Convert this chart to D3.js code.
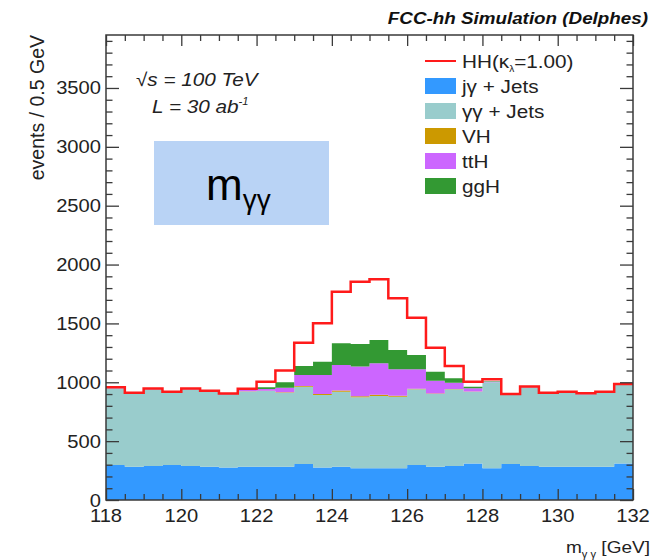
<!DOCTYPE html>
<html>
<head>
<meta charset="utf-8">
<script src="https://cdn.jsdelivr.net/npm/d3@7"></script>
<style>
  html, body { margin: 0; padding: 0; background: #ffffff; }
  svg { display: block; }
  text { font-family: "Liberation Sans", Arial, Helvetica, sans-serif; }
</style>
</head>
<body>
<svg id="chart" width="665" height="560"></svg>
<script>
// Bin lower edges of the diphoton invariant mass (GeV), 0.5 GeV wide
const binLow = [118, 118.5, 119, 119.5, 120, 120.5, 121, 121.5, 122, 122.5,
                123, 123.5, 124, 124.5, 125, 125.5, 126, 126.5, 127, 127.5,
                128, 128.5, 129, 129.5, 130, 130.5, 131, 131.5];
const binWidth = 0.5;

// Stacked backgrounds (events per bin), bottom to top
const jGammaJets = [297, 283, 289, 297, 289, 283, 277, 283, 283, 283, 306, 277, 283, 269,
                    269, 269, 297, 283, 289, 311, 269, 306, 289, 283, 283, 283, 283, 311];
const gammaGammaJets = [653, 622, 652, 616, 652, 638, 615, 639, 643, 629, 657, 615, 637, 603,
                        615, 609, 643, 617, 651, 609, 731, 587, 669, 622, 630, 616, 630, 667];
const vh  = [0, 0, 0, 0, 0, 1, 1, 2, 2, 3, 5, 8, 10, 10, 10, 8, 6, 4, 3, 2, 1, 0, 0, 0, 0, 0, 0, 0];
const ttH = [1, 1, 1, 1, 2, 2, 3, 10, 15, 39, 94, 162, 217, 251, 267, 224, 164, 110, 54, 27, 4,
             2, 1, 1, 1, 1, 1, 1];
const ggH = [1, 1, 1, 1, 1, 2, 2, 5, 14, 46, 76, 113, 184, 192, 198, 164, 122, 76, 37, 14, 3,
             1, 1, 1, 1, 1, 1, 1];
// HH signal, drawn as an outline on top of the stack
const hh  = [5, 5, 5, 5, 4, 3, 6, 6, 48, 99, 198, 326, 439, 530, 516, 439, 317, 204, 104, 42, 17,
             5, 5, 5, 5, 5, 5, 5];

const seriesKeys   = ["jg", "gg", "vh", "tth", "ggh"];
const seriesLabels = ["jγ + Jets", "γγ + Jets", "VH", "ttH", "ggH"];
const seriesColors = ["#3399ff", "#99cccc", "#cc9900", "#cc66ff", "#339933"];
const hhColor = "#ff1a1a";

const xMajorTicks = [118, 120, 122, 124, 126, 128, 130, 132];
const yMajorTicks = [0, 500, 1000, 1500, 2000, 2500, 3000, 3500];
const yMax = 3950;

// ---------------------------------------------------------------
const svg = d3.select("#chart");
const plot = { left: 106, right: 633, top: 35, bottom: 500 };
const textStretch = 1.12;   // glyphs are drawn slightly wide

const x = d3.scaleLinear().domain([118, 132]).range([plot.left, plot.right]);
const y = d3.scaleLinear().domain([0, yMax]).range([plot.bottom, plot.top]);

const rows = binLow.map((lo, i) => ({
  lo, hi: lo + binWidth,
  jg: jGammaJets[i], gg: gammaGammaJets[i], vh: vh[i], tth: ttH[i], ggh: ggH[i], hh: hh[i]
}));

const stacked = d3.stack().keys(seriesKeys)(rows);

// filled step areas for each stacked component
const stepPoints = layer => layer.flatMap(d => [
  { x: d.data.lo, y0: d[0], y1: d[1] },
  { x: d.data.hi, y0: d[0], y1: d[1] }
]);
const area = d3.area()
  .x(p => x(p.x))
  .y0(p => y(p.y0))
  .y1(p => y(p.y1));

svg.append("g").selectAll("path")
  .data(stacked)
  .join("path")
  .attr("d", layer => area(stepPoints(layer)))
  .attr("fill", (layer, i) => seriesColors[i])
  .attr("stroke", "none");

// HH outline on top of the full stack
const totals = rows.map(r => r.jg + r.gg + r.vh + r.tth + r.ggh + r.hh);
const hhPoints = rows.flatMap((r, i) => [[r.lo, totals[i]], [r.hi, totals[i]]]);
svg.append("path")
  .attr("d", d3.line().x(p => x(p[0])).y(p => y(p[1]))(hhPoints))
  .attr("fill", "none")
  .attr("stroke", hhColor)
  .attr("stroke-width", 2.5);

// ---------------------------------------------------------------
// frame and ticks (ticks point inwards on all four sides)
const axisColor = "#3a3a3a";
const xMinor = d3.range(118, 132.001, 0.5).filter(v => !xMajorTicks.includes(v));
const yMinor = d3.range(0, yMax, 100).filter(v => !yMajorTicks.includes(v));

function styleAxis(g) {
  g.select(".domain").remove();
  g.selectAll("line").attr("stroke", axisColor).attr("stroke-width", 1.3);
}

svg.append("g").attr("transform", `translate(0,${plot.bottom})`)
  .call(d3.axisBottom(x).tickValues(xMajorTicks).tickSize(-11).tickFormat(""))
  .call(styleAxis);
svg.append("g").attr("transform", `translate(0,${plot.bottom})`)
  .call(d3.axisBottom(x).tickValues(xMinor).tickSize(-6).tickFormat(""))
  .call(styleAxis);
svg.append("g").attr("transform", `translate(0,${plot.top})`)
  .call(d3.axisTop(x).tickValues(xMajorTicks).tickSize(-11).tickFormat(""))
  .call(styleAxis);
svg.append("g").attr("transform", `translate(0,${plot.top})`)
  .call(d3.axisTop(x).tickValues(xMinor).tickSize(-6).tickFormat(""))
  .call(styleAxis);
svg.append("g").attr("transform", `translate(${plot.left},0)`)
  .call(d3.axisLeft(y).tickValues(yMajorTicks).tickSize(-13).tickFormat(""))
  .call(styleAxis);
svg.append("g").attr("transform", `translate(${plot.left},0)`)
  .call(d3.axisLeft(y).tickValues(yMinor).tickSize(-6.5).tickFormat(""))
  .call(styleAxis);
svg.append("g").attr("transform", `translate(${plot.right},0)`)
  .call(d3.axisRight(y).tickValues(yMajorTicks).tickSize(-13).tickFormat(""))
  .call(styleAxis);
svg.append("g").attr("transform", `translate(${plot.right},0)`)
  .call(d3.axisRight(y).tickValues(yMinor).tickSize(-6.5).tickFormat(""))
  .call(styleAxis);

svg.append("rect")
  .attr("x", plot.left).attr("y", plot.top)
  .attr("width", plot.right - plot.left).attr("height", plot.bottom - plot.top)
  .attr("fill", "none").attr("stroke", axisColor).attr("stroke-width", 1.5);

// ---------------------------------------------------------------
// text helper: places a horizontally widened label at (px, py)
function label(px, py, opts = {}) {
  const rot = opts.rotate ? ` rotate(${opts.rotate})` : "";
  return svg.append("text")
    .attr("transform", `translate(${px},${py}) scale(${opts.stretch ?? textStretch},1)${rot}`)
    .attr("text-anchor", opts.anchor || "start")
    .attr("font-size", opts.size || 18)
    .attr("font-style", opts.italic ? "italic" : "normal")
    .attr("font-weight", opts.bold ? "bold" : "normal")
    .attr("fill", opts.color || "#222");
}

const tickFont = 18;
xMajorTicks.forEach(v => {
  label(x(v), 522, { anchor: "middle", size: tickFont }).text(v);
});
yMajorTicks.forEach(v => {
  label(plot.left - 5, y(v) + (v === 0 ? 7 : 6.5), { anchor: "end", size: tickFont }).text(v);
});

// axis titles
const yTitle = label(44, plot.top, { anchor: "end", size: 19.5, rotate: -90, stretch: 1 });
yTitle.text("events / 0.5 GeV");

const xTitle = label(650, 553, { anchor: "end", size: 17 });
xTitle.append("tspan").text("m");
xTitle.append("tspan").attr("font-size", 10).attr("dy", 5).text("γ γ");
xTitle.append("tspan").attr("dy", -5).text(" [GeV]");

// header
label(648, 24, { anchor: "end", size: 16.8, bold: true, italic: true, color: "#111" })
  .text("FCC-hh Simulation (Delphes)");

// collision energy and luminosity
label(136, 86, { size: 18.5, italic: true }).text("√s = 100 TeV");
const lumi = label(152, 113, { size: 18.5, italic: true });
lumi.append("tspan").text("L = 30 ab");
lumi.append("tspan").attr("font-size", 10).attr("dy", -8).text("-1");

// ---------------------------------------------------------------
// legend
const legendX = 425, legendY0 = 61, legendStep = 25;
svg.append("line")
  .attr("x1", legendX).attr("x2", legendX + 31)
  .attr("y1", legendY0).attr("y2", legendY0)
  .attr("stroke", hhColor).attr("stroke-width", 2);
const hhText = label(462, legendY0 + 6.5, { size: 18.5 });
hhText.append("tspan").text("HH(κ");
hhText.append("tspan").attr("font-size", 9).attr("dy", 4).text("λ");
hhText.append("tspan").attr("dy", -4).text("=1.00)");

seriesLabels.forEach((name, i) => {
  const cy = legendY0 + legendStep * (i + 1);
  svg.append("rect")
    .attr("x", legendX).attr("y", cy - 8)
    .attr("width", 31).attr("height", 16)
    .attr("fill", seriesColors[i]);
  label(462, cy + 6.5, { size: 18.5 }).text(name);
});

// ---------------------------------------------------------------
// observable tag box
svg.append("rect")
  .attr("x", 154).attr("y", 141)
  .attr("width", 175).attr("height", 84)
  .attr("fill", "#b9d3f5");
const tag = svg.append("text")
  .attr("x", 206).attr("y", 200)
  .attr("font-family", "Lato, 'Open Sans', sans-serif")
  .attr("font-size", 44)
  .attr("fill", "#000");
tag.append("tspan").text("m");
tag.append("tspan").attr("font-size", 28).attr("dy", 9).text("γγ");
</script>
</body>
</html>
